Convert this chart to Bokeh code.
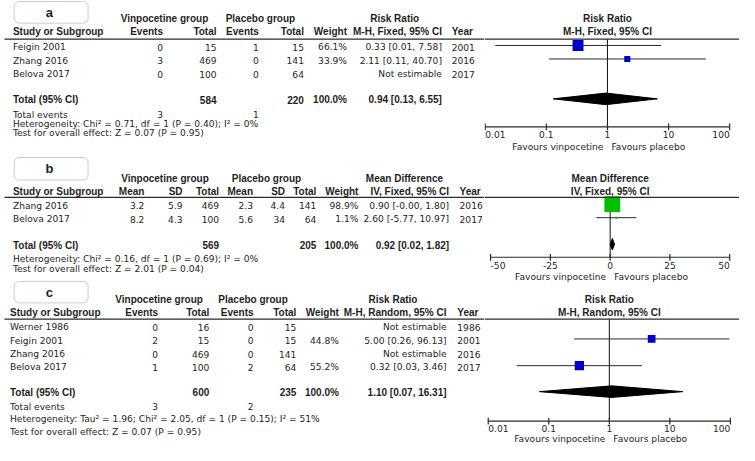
import math
from bokeh.plotting import figure
from bokeh.models import ColumnDataSource, Range1d, Span, BoxAnnotation
from bokeh.layouts import row, column
from bokeh.core.properties import value
from bokeh.embed import file_html
from bokeh.resources import INLINE

# ---------------- data ----------------
# Panel a : Risk Ratio, M-H, Fixed
a_study = ["Feigin 2001", "Zhang 2016", "Belova 2017"]
a_vin_events = [0, 3, 0]
a_vin_total = [15, 469, 100]
a_pla_events = [1, 0, 0]
a_pla_total = [15, 141, 64]
a_weight = [66.1, 33.9, None]
a_est = [0.33, 2.11, None]
a_lo = [0.0146, 0.11, None]
a_hi = [7.58, 40.70, None]
a_year = [2001, 2016, 2017]
a_total_n = [584, 220]
a_total_events = [3, 1]
a_total_eff = [0.94, 0.13, 6.55]
a_het = "Heterogeneity: Chi\u00b2 = 0.71, df = 1 (P = 0.40); I\u00b2 = 0%"
a_test = "Test for overall effect: Z = 0.07 (P = 0.95)"

# Panel b : Mean Difference, IV, Fixed
b_study = ["Zhang 2016", "Belova 2017"]
b_vin_mean = [3.2, 8.2]
b_vin_sd = [5.9, 4.3]
b_vin_total = [469, 100]
b_pla_mean = [2.3, 5.6]
b_pla_sd = [4.4, 34]
b_pla_total = [141, 64]
b_weight = [98.9, 1.1]
b_est = [0.90, 2.60]
b_lo = [-0.004, -5.77]
b_hi = [1.80, 10.97]
b_year = [2016, 2017]
b_total_n = [569, 205]
b_total_eff = [0.92, 0.02, 1.82]
b_het = "Heterogeneity: Chi\u00b2 = 0.16, df = 1 (P = 0.69); I\u00b2 = 0%"
b_test = "Test for overall effect: Z = 2.01 (P = 0.04)"

# Panel c : Risk Ratio, M-H, Random
c_study = ["Werner 1986", "Feigin 2001", "Zhang 2016", "Belova 2017"]
c_vin_events = [0, 2, 0, 1]
c_vin_total = [16, 15, 469, 100]
c_pla_events = [0, 0, 0, 2]
c_pla_total = [15, 15, 141, 64]
c_weight = [None, 44.8, None, 55.2]
c_est = [None, 5.00, None, 0.32]
c_lo = [None, 0.26, None, 0.0296]
c_hi = [None, 96.13, None, 3.46]
c_year = [1986, 2001, 2016, 2017]
c_total_n = [600, 235]
c_total_events = [3, 2]
c_total_eff = [1.10, 0.07, 16.31]
c_het = "Heterogeneity: Tau\u00b2 = 1.96; Chi\u00b2 = 2.05, df = 1 (P = 0.15); I\u00b2 = 51%"
c_test = "Test for overall effect: Z = 0.07 (P = 0.95)"

rr_ticks = [0.01, 0.1, 1, 10, 100]
rr_tick_labels = ["0.01", "0.1", "1", "10", "100"]
md_ticks = [-50, -25, 0, 25, 50]
md_tick_labels = ["-50", "-25", "0", "25", "50"]
fav_left = "Favours vinpocetine"
fav_right = "Favours placebo"

# ---------------- style / layout ----------------
FONT_R = "DejaVu Sans"
FONT_B = "Liberation Sans"
FS_R = "9.1px"
FS_B = "10px"
TXT = "#1e1e1e"
LINE = "#2a2a2a"
BLUE = "#0000C8"
GREEN = "#00BF00"

REF_W, REF_H = 755.0, 461.0
PAGE_W, PAGE_H = 739, 445
LEFT_W = 484
RIGHT_W = PAGE_W - LEFT_W
SPLIT = LEFT_W * REF_W / PAGE_W
PANEL_H = [154, 128, 163]
bounds = [0.0]
for h in PANEL_H:
    bounds.append(bounds[-1] + h * REF_H / PAGE_H)


def base_fig(w, h, xr, yr, xtype="linear"):
    p = figure(width=w, height=h, x_range=xr, y_range=yr, x_axis_type=xtype,
               x_axis_location=None, y_axis_location=None, toolbar_location=None,
               output_backend="svg", min_border=0, outline_line_color=None,
               background_fill_color="white", border_fill_color="white")
    p.grid.visible = False
    return p


def txt(p, xs, ys, texts, align="left", bold=False, xoff=0, size=None):
    src = ColumnDataSource(dict(x=list(xs), y=list(ys), t=[str(s) for s in texts]))
    p.text(x="x", y="y", text="t", source=src, text_align=align, text_baseline="middle",
           text_font=value(FONT_B if bold else FONT_R),
           text_font_size=size or (FS_B if bold else FS_R),
           text_font_style="bold" if bold else "normal", text_color=TXT, x_offset=xoff)


def fmt_ci(e, l, h):
    if e is None:
        return "Not estimable"
    return "%.2f [%.2f, %.2f]" % (e, l, h)


def fmt_w(w):
    return "" if w is None else "%.1f%%" % w


def fmt_g(v):
    return "%g" % v


def log_range(a_px, b_px, v0, v1):
    l0, l1 = math.log10(v0), math.log10(v1)
    per = (l1 - l0) / (b_px - a_px)
    return Range1d(10 ** (l0 - (a_px - SPLIT) * per), 10 ** (l1 + (REF_W - b_px) * per))


def lin_range(a_px, b_px, v0, v1):
    per = (v1 - v0) / (b_px - a_px)
    return Range1d(v0 - (a_px - SPLIT) * per, v1 + (REF_W - b_px) * per)


# ---------------- left table figure ----------------
T = base_fig(LEFT_W, PAGE_H, Range1d(0, SPLIT), Range1d(REF_H, 0))


def panel_box(T, top, bottom, letter, ly):
    T.add_layout(BoxAnnotation(left=14, right=89.5, top=top, bottom=bottom,
                               fill_color=None, line_color="#5a5a5a", line_width=1,
                               border_radius=5))
    txt(T, [50], [ly], [letter], "center", True, size="13px")


def header_line(T, y):
    T.segment(x0=[4], y0=[y], x1=[SPLIT], y1=[y], line_color=LINE, line_width=1.2)


# ---- panel a table
ya = dict(h1=18.5, h2=32.5, line=40, rows=[48.3, 62.3, 76.3], total=102.7,
          events=118.3, het=128.3, test=137.5, axis=131, tick=138.5, fav=151.7)
xa = dict(name=12.7, ve=166, vt=220.7, pe=264, pt=310, w=354, ci=451, yr=461,
          g1=167.5, g2=265.5, g3=402.7)
panel_box(T, 1, 23.5, "a", 12.5)
txt(T, [xa["g1"], xa["g2"], xa["g3"]], [ya["h1"]] * 3,
    ["Vinpocetine group", "Placebo group", "Risk Ratio"], "center", True)
txt(T, [xa["name"]], [ya["h2"]], ["Study or Subgroup"], "left", True)
txt(T, [xa["ve"], xa["vt"], xa["pe"], xa["pt"], xa["w"], xa["ci"]], [ya["h2"]] * 6,
    ["Events", "Total", "Events", "Total", "Weight", "M-H, Fixed, 95% CI"], "right", True)
txt(T, [xa["yr"]], [ya["h2"]], ["Year"], "left", True)
header_line(T, ya["line"])
n = len(a_study)
r = ya["rows"]
txt(T, [xa["name"]] * n, r, a_study, "left")
txt(T, [xa["ve"]] * n, r, a_vin_events, "right")
txt(T, [xa["vt"]] * n, r, a_vin_total, "right")
txt(T, [xa["pe"]] * n, r, a_pla_events, "right")
txt(T, [xa["pt"]] * n, r, a_pla_total, "right")
txt(T, [xa["w"]] * n, r, [fmt_w(w) for w in a_weight], "right")
txt(T, [xa["ci"]] * n, r, [fmt_ci(e, l, h) for e, l, h in zip(a_est, a_lo, a_hi)], "right")
txt(T, [xa["yr"]] * n, r, a_year, "left")
txt(T, [xa["name"]], [ya["total"]], ["Total (95% CI)"], "left", True)
txt(T, [xa["vt"], xa["pt"], xa["w"], xa["ci"]], [ya["total"]] * 4,
    [a_total_n[0], a_total_n[1], fmt_w(sum(w for w in a_weight if w is not None)),
     fmt_ci(*a_total_eff)], "right", True)
txt(T, [xa["name"]], [ya["events"]], ["Total events"], "left")
txt(T, [xa["ve"], xa["pe"]], [ya["events"]] * 2, a_total_events, "right")
txt(T, [xa["name"], xa["name"]], [ya["het"], ya["test"]], [a_het, a_test], "left")

# ---- panel b table
yb = dict(h1=184.2, h2=198.2, line=204, rows=[212.7, 226.7], total=253.3,
          het=268.3, test=277.7, axis=266, tick=275, fav=286.5)
xb = dict(name=12.7, vm=147, vs=186, vt=223.3, pm=258, ps=290.7, pt=322.7, w=365.7,
          ci=458.3, yr=469, g1=168, g2=271.7, g3=412.7)
panel_box(T, 162.7, 186, "b", 174.3)
txt(T, [xb["g1"], xb["g2"], xb["g3"]], [yb["h1"]] * 3,
    ["Vinpocetine group", "Placebo group", "Mean Difference"], "center", True)
txt(T, [xb["name"]], [yb["h2"]], ["Study or Subgroup"], "left", True)
txt(T, [xb[k] for k in ["vm", "vs", "vt", "pm", "ps", "pt", "w", "ci"]], [yb["h2"]] * 8,
    ["Mean", "SD", "Total", "Mean", "SD", "Total", "Weight", "IV, Fixed, 95% CI"], "right", True)
txt(T, [xb["yr"]], [yb["h2"]], ["Year"], "left", True)
header_line(T, yb["line"])
n = len(b_study)
r = yb["rows"]
txt(T, [xb["name"]] * n, r, b_study, "left")
txt(T, [xb["vm"]] * n, r, [fmt_g(v) for v in b_vin_mean], "right")
txt(T, [xb["vs"]] * n, r, [fmt_g(v) for v in b_vin_sd], "right")
txt(T, [xb["vt"]] * n, r, b_vin_total, "right")
txt(T, [xb["pm"]] * n, r, [fmt_g(v) for v in b_pla_mean], "right")
txt(T, [xb["ps"]] * n, r, [fmt_g(v) for v in b_pla_sd], "right")
txt(T, [xb["pt"]] * n, r, b_pla_total, "right")
txt(T, [xb["w"]] * n, r, [fmt_w(w) for w in b_weight], "right")
txt(T, [xb["ci"]] * n, r, [fmt_ci(e, l, h) for e, l, h in zip(b_est, b_lo, b_hi)], "right")
txt(T, [xb["yr"]] * n, r, b_year, "left")
txt(T, [xb["name"]], [yb["total"]], ["Total (95% CI)"], "left", True)
txt(T, [xb["vt"], xb["pt"], xb["w"], xb["ci"]], [yb["total"]] * 4,
    [b_total_n[0], b_total_n[1], fmt_w(sum(b_weight)), fmt_ci(*b_total_eff)], "right", True)
txt(T, [xb["name"], xb["name"]], [yb["het"], yb["test"]], [b_het, b_test], "left")

# ---- panel c table
yc = dict(h1=309.3, h2=323.3, line=330, rows=[338.7, 352.3, 366.3, 380], total=406,
          events=421, het=434, test=446.7, axis=435.7, tick=443.5, fav=454.3)
xc = dict(name=9.7, ve=161, vt=213.3, pe=258.5, pt=302.3, w=345.7, ci=455.7, yr=466.7,
          g1=162, g2=258, g3=401)
panel_box(T, 291, 313.3, "c", 302.7)
txt(T, [xc["g1"], xc["g2"], xc["g3"]], [yc["h1"]] * 3,
    ["Vinpocetine group", "Placebo group", "Risk Ratio"], "center", True)
txt(T, [xc["name"]], [yc["h2"]], ["Study or Subgroup"], "left", True)
txt(T, [xc["ve"], xc["vt"], xc["pe"], xc["pt"], xc["w"], xc["ci"]], [yc["h2"]] * 6,
    ["Events", "Total", "Events", "Total", "Weight", "M-H, Random, 95% CI"], "right", True)
txt(T, [xc["yr"]], [yc["h2"]], ["Year"], "left", True)
header_line(T, yc["line"])
n = len(c_study)
r = yc["rows"]
txt(T, [xc["name"]] * n, r, c_study, "left")
txt(T, [xc["ve"]] * n, r, c_vin_events, "right")
txt(T, [xc["vt"]] * n, r, c_vin_total, "right")
txt(T, [xc["pe"]] * n, r, c_pla_events, "right")
txt(T, [xc["pt"]] * n, r, c_pla_total, "right")
txt(T, [xc["w"]] * n, r, [fmt_w(w) for w in c_weight], "right")
txt(T, [xc["ci"]] * n, r, [fmt_ci(e, l, h) for e, l, h in zip(c_est, c_lo, c_hi)], "right")
txt(T, [xc["yr"]] * n, r, c_year, "left")
txt(T, [xc["name"]], [yc["total"]], ["Total (95% CI)"], "left", True)
txt(T, [xc["vt"], xc["pt"], xc["w"], xc["ci"]], [yc["total"]] * 4,
    [c_total_n[0], c_total_n[1], fmt_w(sum(w for w in c_weight if w is not None)),
     fmt_ci(*c_total_eff)], "right", True)
txt(T, [xc["name"]], [yc["events"]], ["Total events"], "left")
txt(T, [xc["ve"], xc["pe"]], [yc["events"]] * 2, c_total_events, "right")
txt(T, [xc["name"], xc["name"]], [yc["het"], yc["test"]], [c_het, c_test], "left")


# ---------------- forest figures ----------------
def draw_forest(F, yl, est, lo, hi, wts, color, tot, null, ticks, labels, t1, t2):
    txt(F, [null, null], [yl["h1"], yl["h2"]], [t1, t2], "center", True)
    F.add_layout(Span(location=yl["line"], dimension="width", line_color=LINE, line_width=1.2))
    F.segment(x0=[null], y0=[yl["line"]], x1=[null], y1=[yl["axis"]],
              line_color="#111111", line_width=1)
    keep = [i for i in range(len(est)) if est[i] is not None]
    src = ColumnDataSource(dict(
        est=[est[i] for i in keep], lo=[lo[i] for i in keep], hi=[hi[i] for i in keep],
        y=[yl["rows"][i] - 1.7 for i in keep],
        s=[max(2.0, 0.15 * wts[i] + 1) for i in keep]))
    F.segment(x0="lo", y0="y", x1="hi", y1="y", source=src, line_color=LINE, line_width=1)
    F.scatter(x="est", y="y", size="s", marker="square", source=src,
              fill_color=color, line_color=None)
    e, l, h = tot
    ty = yl["total"] - 0.8
    F.patch([l, e, h, e], [ty, ty - 6, ty, ty + 6], fill_color="black", line_color="black")
    ay = yl["axis"]
    nt = len(ticks)
    F.segment(x0=[ticks[0]], y0=[ay], x1=[ticks[-1]], y1=[ay], line_color=LINE, line_width=1.2)
    F.segment(x0=ticks, y0=[ay - 3.5] * nt, x1=ticks, y1=[ay + 3.5] * nt,
              line_color=LINE, line_width=1.2)
    aligns = ["left"] + ["center"] * (nt - 2) + ["right"]
    tsrc = ColumnDataSource(dict(x=ticks, y=[yl["tick"]] * nt, t=labels, al=aligns))
    F.text(x="x", y="y", text="t", text_align="al", source=tsrc, text_baseline="middle",
           text_font=value(FONT_R), text_font_size=FS_R, text_color=TXT)
    txt(F, [null], [yl["fav"]], [fav_left], "right", xoff=-4)
    txt(F, [null], [yl["fav"]], [fav_right], "left", xoff=4)


FA = base_fig(RIGHT_W, PANEL_H[0], log_range(495.2, 745.0, 0.01, 100),
              Range1d(bounds[1], bounds[0]), "log")
draw_forest(FA, ya, a_est, a_lo, a_hi, a_weight, BLUE, a_total_eff, 1, rr_ticks,
            rr_tick_labels, "Risk Ratio", "M-H, Fixed, 95% CI")

FB = base_fig(RIGHT_W, PANEL_H[1], lin_range(500.7, 745.0, -50, 50),
              Range1d(bounds[2], bounds[1]))
draw_forest(FB, yb, b_est, b_lo, b_hi, b_weight, GREEN, b_total_eff, 0, md_ticks,
            md_tick_labels, "Mean Difference", "IV, Fixed, 95% CI")

FC = base_fig(RIGHT_W, PANEL_H[2], log_range(498.3, 745.7, 0.01, 100),
              Range1d(bounds[3], bounds[2]), "log")
draw_forest(FC, yc, c_est, c_lo, c_hi, c_weight, BLUE, c_total_eff, 1, rr_ticks,
            rr_tick_labels, "Risk Ratio", "M-H, Random, 95% CI")

layout = row(T, column(FA, FB, FC, spacing=0), spacing=0)
open("out.html", "w").write(file_html(layout, INLINE))
